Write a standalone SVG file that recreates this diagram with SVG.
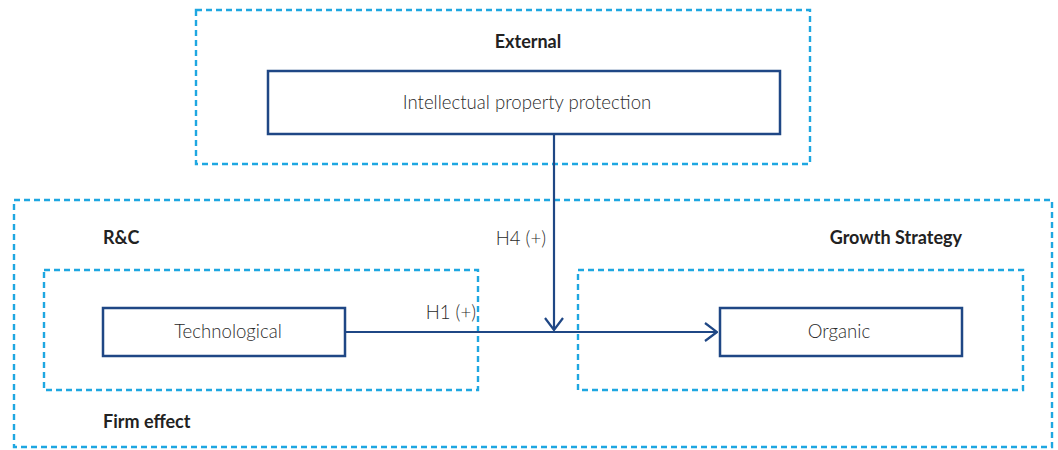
<svg xmlns="http://www.w3.org/2000/svg" width="1058" height="450" viewBox="0 0 1058 450">
  <defs>
    <style>
      .zone { fill: none; stroke: #1ea7e1; stroke-width: 2.4; stroke-dasharray: 6 4; }
      .node { fill: #ffffff; stroke: #1f4785; stroke-width: 2.5; }
      .link { fill: none; stroke: #1f4785; stroke-width: 2.2; }
      .label { font-family: Lato, "Liberation Sans", sans-serif; font-size: 18.6px; fill: #2a2a2a; font-weight: 300; }
      .title { font-family: Lato, "Liberation Sans", sans-serif; font-size: 18px; fill: #222222; font-weight: 700; }
    </style>
    <marker id="arrow" viewBox="0 0 14 20" refX="13" refY="10" markerWidth="14" markerHeight="20" markerUnits="userSpaceOnUse" orient="auto">
      <path d="M1,1 L13,10 L1,19" fill="none" stroke="#1f4785" stroke-width="2.2"/>
    </marker>
  </defs>
  <rect width="1058" height="450" fill="#ffffff"/>

  <!-- grouping zones -->
  <g id="zones">
    <rect id="zone-external" class="zone" x="196" y="10" width="614" height="154"/>
    <rect id="zone-firm" class="zone" x="14" y="200" width="1038" height="247"/>
    <rect id="zone-rc" class="zone" x="44" y="270" width="434" height="120"/>
    <rect id="zone-growth" class="zone" x="578" y="270" width="445" height="120"/>
    <text class="title" x="528" y="48" text-anchor="middle">External</text>
    <text class="title" x="103" y="244">R&amp;C</text>
    <text class="title" x="962" y="244" text-anchor="end">Growth Strategy</text>
    <text class="title" x="103" y="428">Firm effect</text>
  </g>

  <!-- connectors -->
  <g id="connectors">
    <line class="link" x1="345" y1="332" x2="717" y2="332" marker-end="url(#arrow)"/>
    <line class="link" x1="554" y1="134" x2="554" y2="330" marker-end="url(#arrow)"/>
    <text class="label" x="476" y="319" text-anchor="end">H1 (+)</text>
    <text class="label" x="546" y="245" text-anchor="end">H4 (+)</text>
  </g>

  <g id="node-ip">
    <rect class="node" x="268" y="71" width="512" height="63"/>
    <text class="label" x="527" y="109" text-anchor="middle">Intellectual property protection</text>
  </g>
  <g id="node-technological">
    <rect class="node" x="103" y="308" width="242" height="48"/>
    <text class="label" x="228" y="338" text-anchor="middle">Technological</text>
  </g>
  <g id="node-organic">
    <rect class="node" x="720" y="308" width="242" height="48"/>
    <text class="label" x="839" y="338" text-anchor="middle">Organic</text>
  </g>
</svg>
